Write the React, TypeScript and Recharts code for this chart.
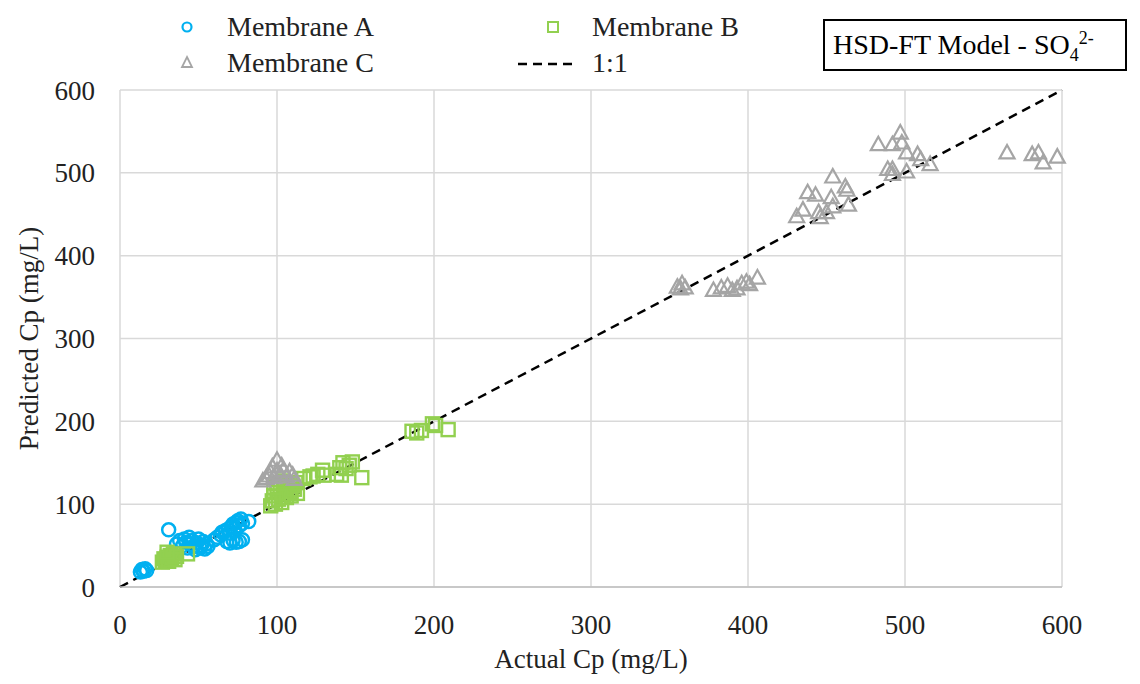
import React from 'react';
import {
  ScatterChart,
  Scatter,
  XAxis,
  YAxis,
  CartesianGrid,
  ReferenceLine,
  Legend,
} from 'recharts';

const FONT = 'Liberation Serif, Tinos, "Times New Roman", Times, "DejaVu Serif", "Noto Serif", serif';
const BLUE = '#00B0F0';
const GREEN = '#92D050';
const GRAY = '#A5A5A5';

// [actual, predicted] in mg/L
const membraneA: [number, number][] = [
  [13, 18], [14, 21], [15, 19], [16, 22], [17, 20],
  [31, 69],
  [36, 52], [38, 56], [40, 50], [41, 58], [42, 54], [43, 47], [44, 60], [45, 52],
  [46, 56], [47, 49], [48, 45], [49, 53], [50, 58], [51, 47], [52, 50], [53, 55],
  [54, 46], [55, 52], [56, 49],
  [60, 57], [62, 60], [64, 63], [65, 66], [67, 68], [69, 70], [70, 65], [71, 73],
  [72, 76], [73, 71], [74, 78], [75, 80], [76, 74], [77, 82], [78, 77],
  [68, 55], [70, 53], [72, 56], [74, 54], [76, 55], [78, 57],
  [82, 79],
];

const membraneB: [number, number][] = [
  [27, 30], [28, 34], [29, 32], [30, 36], [31, 31], [32, 38], [33, 35], [34, 40],
  [35, 33], [36, 37], [30, 42], [43, 40],
  [96, 98], [97, 104], [98, 110], [99, 100], [100, 114], [101, 106], [102, 118],
  [103, 102], [104, 112], [105, 120], [106, 108], [107, 124], [108, 115], [109, 110],
  [110, 122], [111, 118], [112, 126], [113, 113], [98, 120], [100, 125], [104, 128],
  [117, 131], [121, 133], [123, 134], [126, 136], [129, 141], [130, 135], [138, 136],
  [140, 144], [141, 135], [142, 150], [144, 143], [146, 147], [148, 151], [154, 132],
  [186, 188], [189, 186], [192, 189], [199, 197], [201, 195], [209, 190],
];

const membraneC: [number, number][] = [
  [91, 128], [93, 131], [95, 134], [96, 138], [98, 132], [100, 140], [100, 153],
  [102, 136], [104, 141], [106, 133], [108, 139], [110, 135], [111, 130], [97, 145],
  [103, 146],
  [355, 362], [357, 360], [358, 366], [360, 361], [378, 358], [383, 361], [387, 363],
  [390, 358], [393, 360], [396, 366], [399, 368], [401, 365], [406, 373],
  [431, 447], [435, 455], [438, 476], [443, 473], [445, 452], [446, 446], [450, 452],
  [453, 470], [454, 459], [454, 495], [462, 483], [463, 479], [464, 461],
  [483, 534], [489, 504], [492, 534], [492, 504], [492, 498], [497, 548], [498, 536],
  [501, 524], [501, 501], [508, 522], [510, 516], [516, 510],
  [565, 524], [581, 522], [585, 524], [588, 512], [597, 519],
];

const axisTicks = [0, 100, 200, 300, 400, 500, 600];
const oneToOneEnds = [0, 600];

const toPoints = (arr: [number, number][]) => arr.map(([x, y]) => ({ x, y }));

const CircleMark = (p: any) => (
  <circle cx={p.cx} cy={p.cy} r={6.5} fill="none" stroke={BLUE} strokeWidth={2.5} />
);
const SquareMark = (p: any) => (
  <rect x={p.cx - 6.5} y={p.cy - 6.5} width={13} height={13} fill="none" stroke={GREEN} strokeWidth={2.4} />
);
const TriangleMark = (p: any) => (
  <polygon
    points={`${p.cx},${p.cy - 8} ${p.cx + 7.5},${p.cy + 5.5} ${p.cx - 7.5},${p.cy + 5.5}`}
    fill="none"
    stroke={GRAY}
    strokeWidth={2.2}
  />
);

const renderLegend = () => (
  <svg width={1140} height={85} style={{ fontFamily: FONT, fontSize: 28 }}>
    <circle cx={187} cy={27} r={4.5} fill="none" stroke={BLUE} strokeWidth={2.2} />
    <text x={227} y={36} fill="#222">Membrane A</text>
    <rect x={548} y={22} width={10} height={10} fill="none" stroke={GREEN} strokeWidth={2} />
    <text x={592} y={36} fill="#222">Membrane B</text>
    <polygon points="187,57 192,67 182,67" fill="none" stroke={GRAY} strokeWidth={1.8} />
    <text x={227} y={72} fill="#222">Membrane C</text>
    <line x1={518} y1={64} x2={578} y2={64} stroke="#000" strokeWidth={2.5} strokeDasharray="9 6" />
    <text x={592} y={72} fill="#222">1:1</text>
    <rect x={824} y={20} width={302} height={50} fill="#fff" stroke="#000" strokeWidth={2} />
    <text x={833} y={54} fill="#000">
      HSD-FT Model - SO
      <tspan fontSize={18} dy={7}>4</tspan>
      <tspan fontSize={18} dy={-17}>2-</tspan>
    </text>
  </svg>
);

export default function App() {
  return (
    <div style={{ position: 'absolute', left: 0, top: 0, width: 1140, height: 684, background: '#fff', fontFamily: FONT }}>
      <ScatterChart width={1140} height={684} margin={{ top: 90, right: 78, bottom: 0, left: 0 }}>
        <CartesianGrid stroke="#d9d9d9" strokeWidth={1.5} />
        <XAxis
          type="number"
          dataKey="x"
          domain={[0, 600]}
          ticks={axisTicks}
          height={97}
          tickSize={0}
          tickMargin={28}
          tickLine={false}
          axisLine={{ stroke: '#bfbfbf', strokeWidth: 1.5 }}
          tick={{ fill: '#222', fontSize: 27, fontFamily: FONT }}
          label={{
            value: 'Actual Cp (mg/L)',
            position: 'insideBottom',
            offset: 16,
            style: { fill: '#222', fontSize: 27, fontFamily: FONT },
          }}
        />
        <YAxis
          type="number"
          dataKey="y"
          domain={[0, 600]}
          ticks={axisTicks}
          width={120}
          tickSize={0}
          tickMargin={25}
          tickLine={false}
          axisLine={false}
          tick={{ fill: '#222', fontSize: 27, fontFamily: FONT }}
          label={{
            value: 'Predicted Cp (mg/L)',
            angle: -90,
            position: 'insideLeft',
            offset: 28,
            style: { fill: '#222', fontSize: 27, fontFamily: FONT, textAnchor: 'middle' },
          }}
        />
        <Legend
          content={renderLegend}
          layout="horizontal"
          verticalAlign="middle"
          align="center"
          wrapperStyle={{ top: 0, left: 0, width: 1140, height: 85 }}
        />
        <Scatter name="Membrane A" data={toPoints(membraneA)} shape={CircleMark} isAnimationActive={false} />
        <Scatter name="Membrane B" data={toPoints(membraneB)} shape={SquareMark} isAnimationActive={false} />
        <Scatter name="Membrane C" data={toPoints(membraneC)} shape={TriangleMark} isAnimationActive={false} />
        <ReferenceLine
          segment={[
            { x: oneToOneEnds[0], y: oneToOneEnds[0] },
            { x: oneToOneEnds[1], y: oneToOneEnds[1] },
          ]}
          stroke="#000"
          strokeWidth={2.5}
          strokeDasharray="9 6"
        />
      </ScatterChart>
    </div>
  );
}
